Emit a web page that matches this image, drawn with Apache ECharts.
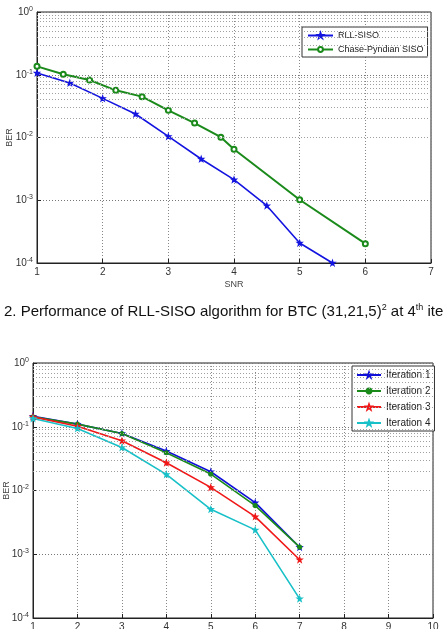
<!DOCTYPE html>
<html style="height: 100%">
   <head>
       <meta charset="utf-8">
       <script src="https://cdn.jsdelivr.net/npm/echarts@6/dist/echarts.min.js"></script>
       <title>RLL-SISO performance</title>
   </head>
   <body style="height: 100%; margin: 0; background: #fff">
       <div id="container" style="width: 444px; height: 629px"></div>
       <script type="text/javascript">

// top chart: BER vs SNR, RLL-SISO against Chase-Pyndian SISO
const snrRll = [1, 1.5, 2, 2.5, 3, 3.5, 4, 4.5, 5, 5.5];
const berRll = [0.107, 0.074, 0.042, 0.0237, 0.0104, 0.00454, 0.00213, 0.00082, 0.000208, 0.0001];
const snrChase = [1, 1.4, 1.8, 2.2, 2.6, 3, 3.4, 3.8, 4, 5, 6];
const berChase = [0.136, 0.1016, 0.0824, 0.0565, 0.0448, 0.0271, 0.017, 0.0101, 0.00648, 0.00102, 0.000203];

// bottom chart: BER per iteration
const snrIter = [1, 2, 3, 4, 5, 6, 7];
const iter1 = [0.1465, 0.110, 0.0784, 0.0415, 0.0197, 0.00645, 0.00129];
const iter2 = [0.143, 0.110, 0.0784, 0.0391, 0.0181, 0.00579, 0.00129];
const iter3 = [0.143, 0.102, 0.0602, 0.0272, 0.0112, 0.0039, 0.00082];
const iter4 = [0.1346, 0.094, 0.0473, 0.0179, 0.00507, 0.00241, 0.0002];

const pairs = (xs, ys) => xs.map((x, i) => [x, ys[i]]);

let dom = document.getElementById("container");
let chart = echarts.init(dom);

const font = 'Liberation Sans';
const star = 'path://M0,-10 L2.4,-3.1 L9.5,-3.1 L3.8,1.2 L5.9,8.1 L0,4 L-5.9,8.1 L-3.8,1.2 L-9.5,-3.1 L-2.4,-3.1 Z';

// log minor grid lines (2..9 in each decade)
function minorLines() {
  let arr = [];
  for (let e = -4; e < 0; e++) {
    for (let m = 2; m <= 9; m++) arr.push({ yAxis: m * Math.pow(10, e) });
  }
  return arr;
}
const minorMark = {
  silent: true,
  symbol: ['none', 'none'],
  label: { show: false },
  emphasis: { disabled: true },
  lineStyle: { type: [1, 2], color: '#a0a0a0', width: 1 },
  data: minorLines()
};

function xAxisOpt(grid, max, name) {
  return {
    gridIndex: grid, type: 'value', min: 1, max: max, interval: 1,
    name: name, nameLocation: 'middle', nameGap: 17, nameMoveOverlap: false,
    nameTextStyle: { fontFamily: font, fontSize: 9, color: '#444' },
    axisLine: { onZero: false, lineStyle: { color: '#222' } },
    axisTick: { inside: true, length: 4, lineStyle: { color: '#222' } },
    axisLabel: { fontFamily: font, fontSize: 10, color: '#333', margin: 4 },
    splitLine: { show: true, lineStyle: { type: [1, 2], color: '#888' } }
  };
}
function yAxisOpt(grid, nameGap) {
  return {
    gridIndex: grid, type: 'log', logBase: 10, min: 0.0001, max: 1,
    name: 'BER', nameLocation: 'middle', nameGap: nameGap, nameMoveOverlap: false,
    nameTextStyle: { fontFamily: font, fontSize: 9, color: '#444' },
    axisLine: { lineStyle: { color: '#222' } },
    axisTick: { inside: true, length: 4, lineStyle: { color: '#222' } },
    axisLabel: {
      fontFamily: font, fontSize: 10, color: '#333', margin: 4,
      formatter: function (v) {
        return '10{e|' + Math.round(Math.log10(v)) + '}';
      },
      rich: { e: { fontFamily: font, fontSize: 7, color: '#333', verticalAlign: 'top', padding: [0, 0, 6, 0] } }
    },
    splitLine: { show: true, lineStyle: { type: [1, 2], color: '#777' } }
  };
}

function lineSeries(name, xi, data, color, symbol, size, width, withGrid) {
  let s = {
    name: name, type: 'line', xAxisIndex: xi, yAxisIndex: xi,
    data: data, symbol: symbol, symbolSize: size,
    lineStyle: { color: color, width: width },
    itemStyle: { color: color, borderColor: color, borderWidth: 1.2 },
    emphasis: { disabled: true }
  };
  if (withGrid) s.markLine = minorMark;
  return s;
}

const legendBase = {
  orient: 'vertical', backgroundColor: '#fff', borderColor: '#333', borderWidth: 1,
  itemWidth: 25, itemHeight: 6, borderRadius: 0,
  textStyle: { fontFamily: font, fontSize: 9, color: '#222' }
};

chart.setOption({
  backgroundColor: '#fff',
  animation: false,
  title: {
    text: '2. Performance of RLL-SISO algorithm for BTC (31,21,5){sup|2} at 4{sup|th} ite',
    left: 4, top: 303, padding: 0,
    textStyle: {
      fontFamily: font, fontSize: 15, fontWeight: 'normal', color: '#111',
      rich: { sup: { fontFamily: font, fontSize: 9, color: '#111', verticalAlign: 'top', padding: [0, 0, 8, 0] } }
    }
  },
  grid: [
    { left: 37, top: 12, width: 394, height: 251, containLabel: false, outerBoundsMode: 'none',
      show: true, borderColor: '#222', borderWidth: 1 },
    { left: 33, top: 363, width: 400, height: 255, containLabel: false, outerBoundsMode: 'none',
      show: true, borderColor: '#222', borderWidth: 1 }
  ],
  xAxis: [xAxisOpt(0, 7, 'SNR'), xAxisOpt(1, 10, '')],
  yAxis: [yAxisOpt(0, 23), yAxisOpt(1, 22)],
  legend: [
    Object.assign({}, legendBase, {
      left: 302, top: 27, padding: [4, 4, 3, 5], itemGap: 5,
      data: ['RLL-SISO', 'Chase-Pyndian SISO']
    }),
    Object.assign({}, legendBase, {
      left: 352, top: 366, padding: [4, 4, 3, 4], itemGap: 6, itemWidth: 24,
      textStyle: { fontFamily: font, fontSize: 10, color: '#222' },
      data: ['Iteration 1', 'Iteration 2', 'Iteration 3', 'Iteration 4']
    })
  ],
  series: [
    lineSeries('RLL-SISO', 0, pairs(snrRll, berRll), '#1414e0', star, 5, 1.6, true),
    lineSeries('Chase-Pyndian SISO', 0, pairs(snrChase, berChase), '#1a8a1a', 'emptyCircle', 5, 2, false),
    lineSeries('Iteration 1', 1, pairs(snrIter, iter1), '#1010d8', star, 5, 1.6, true),
    lineSeries('Iteration 2', 1, pairs(snrIter, iter2), '#1a8a1a', 'circle', 4, 1.6, false),
    lineSeries('Iteration 3', 1, pairs(snrIter, iter3), '#f01818', star, 5, 1.6, false),
    lineSeries('Iteration 4', 1, pairs(snrIter, iter4), '#18c0c8', star, 5, 1.6, false)
  ]
});

       </script>
   </body>
</html>
